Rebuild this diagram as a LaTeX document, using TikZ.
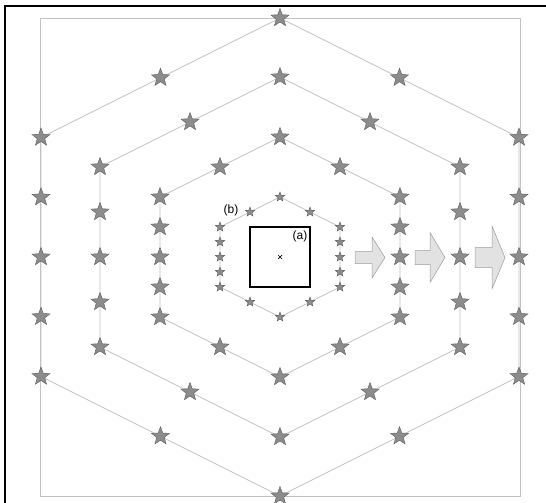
\documentclass[tikz,border=0pt]{standalone}
\usepackage{fontspec}
\setmainfont{Liberation Sans}
\usetikzlibrary{shapes.geometric}

\definecolor{hexgray}{HTML}{C2C2C2}
\definecolor{starfill}{HTML}{8C8C8C}
\definecolor{starline}{HTML}{5C5C5C}
\definecolor{arrowfill}{HTML}{E2E2E2}
\definecolor{arrowline}{HTML}{9C9C9C}

\tikzset{
  hexline/.style={draw=hexgray, line width=0.8pt},
  bigstar/.style={star, star points=5, star point ratio=2.4, inner sep=0pt,
    minimum size=19pt, fill=starfill, draw=starline, line width=0.4pt},
  smallstar/.style={bigstar, minimum size=10pt},
  blockarrow/.style={fill=arrowfill, draw=arrowline, line width=0.5pt},
  lbl/.style={inner sep=1pt, font=\fontsize{12}{14}\selectfont}
}

\begin{document}
\begin{tikzpicture}[x=1pt, y=-1pt]
  \useasboundingbox (0,0) rectangle (546,503);

  % frame and outer box
  \draw[line width=1.5pt] (5,503) -- (5,6) -- (546,6);
  \draw[hexline] (40,18) rectangle (520,496);

  % hexagons with their stars
  \foreach \a/\s in {239/bigstar, 180/bigstar, 120/bigstar, 60/smallstar}{
    \draw[hexline] (280,257-\a) -- (280+\a,257-\a/2) -- (280+\a,257+\a/2)
      -- (280,257+\a) -- (280-\a,257+\a/2) -- (280-\a,257-\a/2) -- cycle;
    \foreach \sx/\sd in {-1/l, 1/r}{
      \foreach \k in {-2,...,2}
        \node[\s] (s\a\sd\k) at (280+\sx*\a, 257+\k*\a/4) {};
      \node[\s] (s\a\sd t) at (280+\sx*\a/2, 257-3*\a/4) {};
      \node[\s] (s\a\sd b) at (280+\sx*\a/2, 257+3*\a/4) {};
    }
    \node[\s] (s\a top) at (280,257-\a) {};
    \node[\s] (s\a bot) at (280,257+\a) {};
  }

  % square (a) and centre mark
  \draw[line width=2pt] (250,227) rectangle (310,287);
  \draw[line width=0.7pt] (278,255) -- (282,259) (278,259) -- (282,255);
  \node[lbl] (la) at (300,236) {(a)};
  \node[lbl] (lb) at (231,210) {(b)};

  % growing arrows
  \foreach \xa/\xh/\sh/\hh in {355/372/6/20.5, 415/430/7/25, 475/492/10/31.5}
    \draw[blockarrow] (\xa,257.5-\sh) -- (\xh,257.5-\sh) -- (\xh,257.5-\hh)
      -- (\xa+30,257.5) -- (\xh,257.5+\hh) -- (\xh,257.5+\sh)
      -- (\xa,257.5+\sh) -- cycle;
\end{tikzpicture}
\end{document}
